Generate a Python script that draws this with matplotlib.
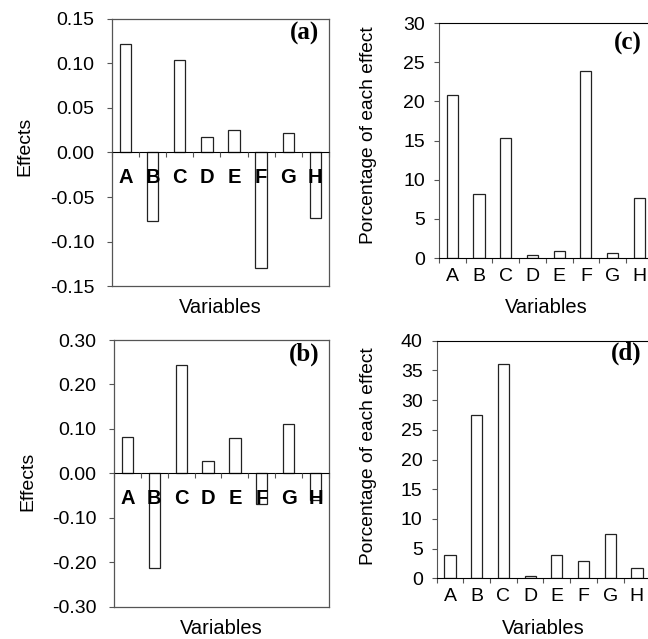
import matplotlib
matplotlib.use('Agg')
import numpy as np
from matplotlib import pyplot as plt
from matplotlib.ticker import FixedLocator, FormatStrFormatter

plt.rcParams['font.family'] = ['Liberation Sans', 'DejaVu Sans']
plt.rcParams['axes.unicode_minus'] = False
plt.rcParams['font.size'] = 14

# data
variables = ['A', 'B', 'C', 'D', 'E', 'F', 'G', 'H']
effects_a = [0.122, -0.077, 0.104, 0.017, 0.025, -0.130, 0.022, -0.074]
effects_b = [0.081, -0.214, 0.243, 0.027, 0.080, -0.069, 0.111, -0.060]
percent_c = [20.8, 8.2, 15.3, 0.4, 0.9, 23.9, 0.7, 7.6]
percent_d = [4.0, 27.5, 36.1, 0.4, 3.9, 2.9, 7.5, 1.8]

frame_col = '#555555'
bar_w = 0.42
x = np.arange(len(variables))
bounds = np.arange(len(variables) + 1) - 0.5


def effects_panel(ax, vals, lim, step, fmt, tag):
    ax.bar(x, vals, width=bar_w, color='white', edgecolor='#222222', linewidth=0.9, zorder=2)
    ax.set_axisbelow(False)   # letters go over the bars like the original
    ax.set_xlim(-0.5, 7.5)
    ax.set_ylim(-lim, lim)
    ax.set_yticks(np.arange(-lim, lim + step / 2, step))
    ax.yaxis.set_major_formatter(FormatStrFormatter(fmt))
    ax.tick_params(axis='y', direction='out', length=3.6, width=0.8, pad=9,
                   color=frame_col, labelsize=14)

    # x axis sits on the zero line, frame kept all round
    ax.spines['bottom'].set_position(('data', 0))
    ax.spines['bottom'].set_color('black')
    for s in ['top', 'left', 'right']:
        ax.spines[s].set_color(frame_col)
        ax.spines[s].set_linewidth(0.9)
    ax.axhline(-lim, color=frame_col, linewidth=0.9, clip_on=False)

    ax.xaxis.set_major_locator(FixedLocator(x))
    ax.xaxis.set_minor_locator(FixedLocator(bounds))
    ax.set_xticklabels(variables, fontweight='bold', fontsize=14.5)
    ax.tick_params(axis='x', which='major', length=0, pad=11)
    ax.tick_params(axis='x', which='minor', direction='out', length=3.6, width=0.8, color=frame_col)

    ax.set_xlabel('Variables', fontsize=14.5)
    ax.set_ylabel('Effects', fontsize=14)
    ax.text(0.885, 0.945, tag, transform=ax.transAxes, family='Liberation Serif',
            fontweight='bold', fontsize=18, ha='center', va='center')


def percent_panel(ax, vals, top, tag, tag_y):
    ax.bar(x, vals, width=bar_w, color='white', edgecolor='#222222', linewidth=0.9, zorder=2)
    ax.set_xlim(-0.5, 7.5)
    ax.set_ylim(0, top)
    ax.set_yticks(np.arange(0, top + 1, 5))
    ax.tick_params(axis='y', direction='out', length=3.6, width=0.8, pad=6.5,
                   color=frame_col, labelsize=14)
    ax.spines['left'].set_color(frame_col)
    ax.spines['top'].set_color('black')
    ax.spines['bottom'].set_color('black')
    ax.xaxis.set_major_locator(FixedLocator(x))
    ax.xaxis.set_minor_locator(FixedLocator(bounds))
    ax.set_xticklabels(variables, fontsize=14)
    ax.tick_params(axis='x', which='major', length=0, pad=7)
    ax.tick_params(axis='x', which='minor', direction='out', length=3.6, width=0.8, color=frame_col)
    ax.set_xlabel('Variables', fontsize=14.5)
    ax.set_ylabel('Porcentage of each effect', fontsize=13.8)
    ax.text(0.885, tag_y, tag, transform=ax.transAxes,
            family='Liberation Serif', fontweight='bold', fontsize=18,
            ha='center', va='center')


fig = plt.figure(figsize=(6.48, 6.39), dpi=100)

ax_a = fig.add_axes([0.1728, 0.5524, 0.3349, 0.4179])
ax_b = fig.add_axes([0.1759, 0.0506, 0.3318, 0.4173])
ax_c = fig.add_axes([0.6775, 0.5962, 0.3296, 0.3678])
ax_d = fig.add_axes([0.6739, 0.0950, 0.3296, 0.3718])

effects_panel(ax_a, effects_a, 0.15, 0.05, '%.2f', '(a)')
effects_panel(ax_b, effects_b, 0.30, 0.10, '%.2f', '(b)')
percent_panel(ax_c, percent_c, 30, '(c)', 0.912)
percent_panel(ax_d, percent_d, 40, '(d)', 0.948)

# label placement
ax_a.xaxis.set_label_coords(0.5, -0.045)
ax_b.xaxis.set_label_coords(0.5, -0.045)
ax_c.xaxis.set_label_coords(0.5, -0.17)
ax_d.xaxis.set_label_coords(0.5, -0.17)
ax_a.yaxis.set_label_coords(-0.364, 0.522)
ax_b.yaxis.set_label_coords(-0.36, 0.47)
ax_c.yaxis.set_label_coords(-0.289, 0.523)
ax_d.yaxis.set_label_coords(-0.278, 0.515)

fig.savefig('out.png', dpi=100)
